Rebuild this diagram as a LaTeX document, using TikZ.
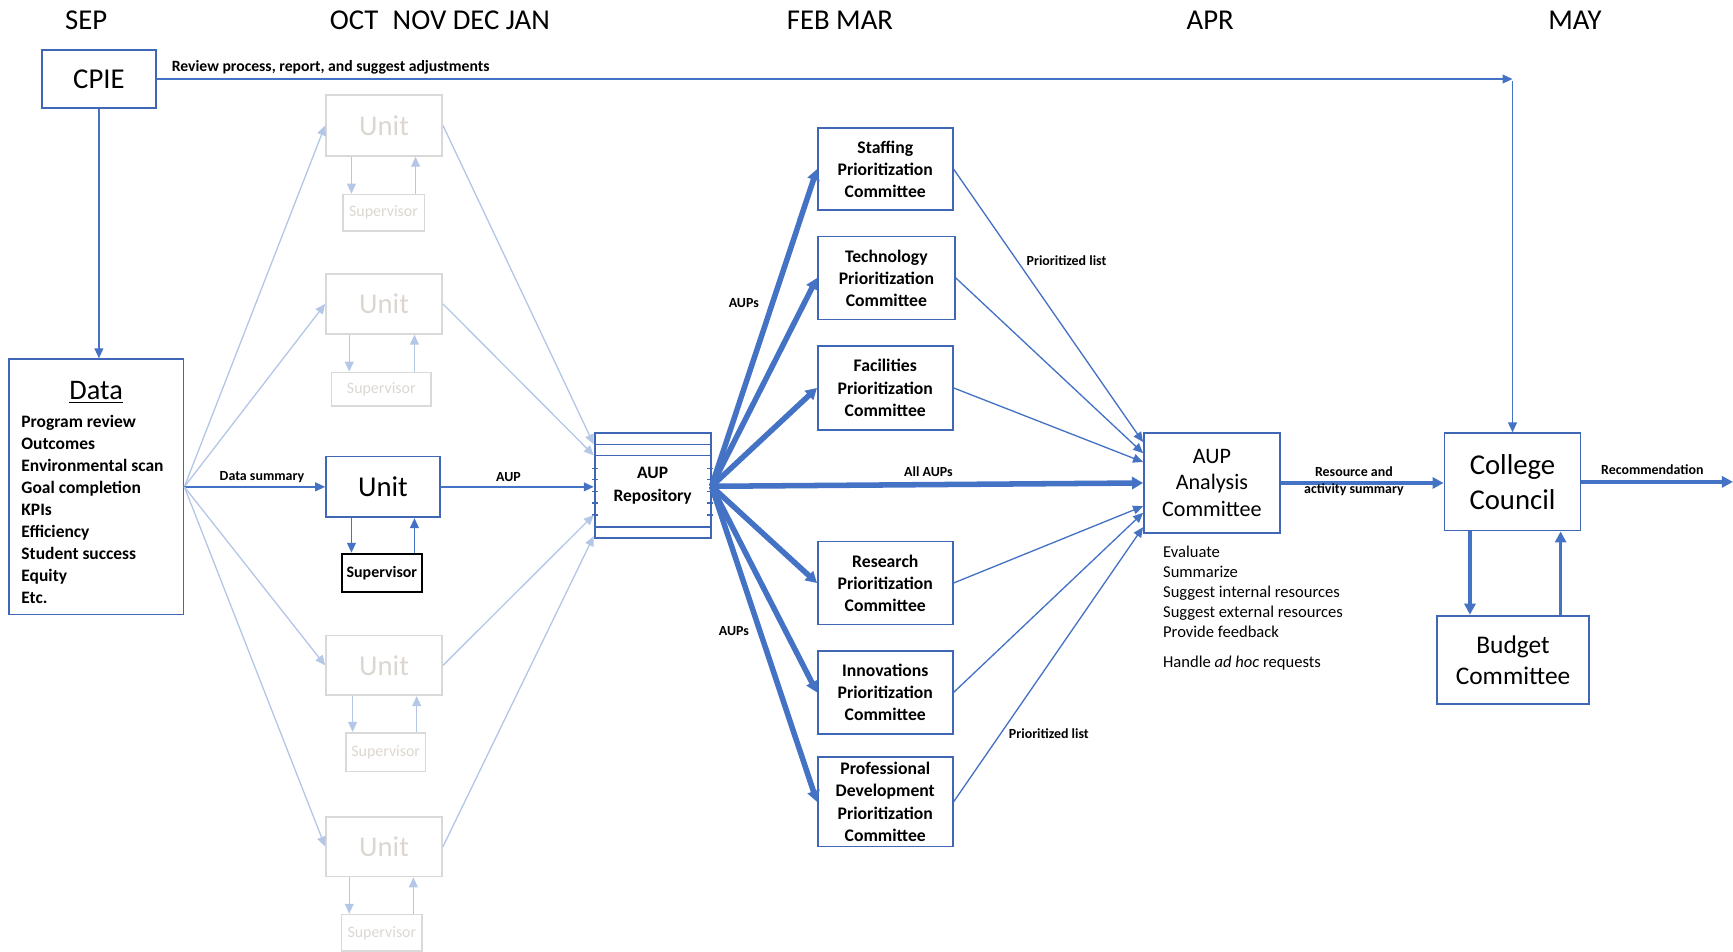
\documentclass[tikz,border=0pt]{standalone}
\usepackage{fontspec}
\setmainfont{Carlito}
\usetikzlibrary{arrows.meta}
\definecolor{ofblue}{HTML}{4472C4}
\definecolor{boxblue}{HTML}{3F67B5}
\definecolor{fadeblue}{HTML}{B4C7E7}
\definecolor{fadegray}{HTML}{D9D9D9}
\definecolor{fadetext}{HTML}{DCD6D0}
\tikzset{
  box/.style={draw=boxblue, line width=0.8pt, inner sep=0pt, align=center},
  fadebox/.style={draw=fadegray, line width=0.8pt, inner sep=0pt, text=fadetext},
  flow/.style={draw=ofblue, line width=0.6pt, -{Triangle[length=4.5pt,width=4pt]}},
  fadeflow/.style={draw=fadeblue, line width=0.6pt, -{Triangle[length=4.5pt,width=4pt]}},
  heavy/.style={draw=ofblue, line width=2.5pt, -{Triangle[length=5pt,width=5.5pt]}},
  medium/.style={draw=ofblue, line width=1.6pt, -{Triangle[length=5pt,width=5pt]}},
  tag/.style={font=\bfseries\fontsize{6.3}{7.5}\selectfont, inner sep=0pt, align=center},
  month/.style={font=\fontsize{13}{15}\selectfont, inner sep=0pt},
  unitbox/.style={minimum width=52.5pt, minimum height=27.5pt, font=\fontsize{13}{15}\selectfont},
  supbox/.style={font=\fontsize{7.2}{9}\selectfont},
  cmt/.style={box, font=\bfseries\fontsize{8}{10}\selectfont, minimum width=61pt}
}
\begin{document}
\begin{tikzpicture}[x=0.5pt,y=-0.5pt]
\useasboundingbox (0,0) rectangle (1568,861);

% month headings
\node[month] (sep) at (78,18) {SEP};
\node[month] (ocj) at (398,18) {OCT\enspace NOV DEC JAN};
\node[month] (fm) at (760,18) {FEB MAR};
\node[month] (apr) at (1095,18) {APR};
\node[month] (may) at (1425,18) {MAY};

% CPIE and data
\node[box, minimum width=51.5pt, minimum height=26.5pt, font=\fontsize{13}{15}\selectfont] (cpie) at (89.5,71.5) {CPIE};
\node[box, minimum width=79pt, minimum height=115.5pt] (data) at (87,440.5) {};
\node[font=\fontsize{12.8}{15}\selectfont, inner sep=0pt] (datahead) at (87,355) {\underline{Data}};
\node[anchor=north west, inner sep=0pt, align=left, font=\bfseries\fontsize{7.9}{10}\selectfont] (datalist) at (19,375)
  {Program review\\Outcomes\\Environmental scan\\Goal completion\\KPIs\\Efficiency\\Student success\\Equity\\Etc.};

% units and supervisors
\node[fadebox, unitbox] (u1) at (347.5,113.5) {Unit};
\node[fadebox, supbox, minimum width=37pt, minimum height=16.5pt] (s1) at (347,192.5) {Supervisor};
\node[fadebox, unitbox, minimum height=27pt] (u2) at (347.5,275) {Unit};
\node[fadebox, supbox, minimum width=45pt, minimum height=15pt] (s2) at (345,352) {Supervisor};
\node[box, unitbox, minimum width=51.5pt] (u3) at (346.5,440.5) {Unit};
\node[draw=black, line width=0.9pt, inner sep=0pt, supbox, font=\bfseries\fontsize{7.2}{9}\selectfont, minimum width=36.5pt, minimum height=17.5pt] (s3) at (345.5,518.5) {Supervisor};
\node[fadebox, unitbox, minimum height=27pt] (u4) at (347.5,602) {Unit};
\node[fadebox, supbox, minimum width=36pt, minimum height=17.5pt] (s4) at (349,680.5) {Supervisor};
\node[fadebox, unitbox, minimum height=27pt] (u5) at (347.5,766) {Unit};
\node[fadebox, supbox, minimum width=36.5pt, minimum height=16.5pt] (s5) at (345.5,844) {Supervisor};

% unit <-> supervisor loops
\coordinate (d1) at ([xshift=-14.75pt]u1.south); \coordinate (q1) at ([xshift=14.25pt]u1.south);
\draw[fadeflow] (d1) -- (d1 |- s1.north);
\draw[fadeflow] (q1 |- s1.north) -- (q1);
\coordinate (d2) at ([xshift=-15.75pt]u2.south); \coordinate (q2) at ([xshift=13.75pt]u2.south);
\draw[fadeflow] (d2) -- (d2 |- s2.north);
\draw[fadeflow] (q2 |- s2.north) -- (q2);
\coordinate (d3) at ([xshift=-14.25pt]u3.south); \coordinate (q3) at ([xshift=14.25pt]u3.south);
\draw[flow] (d3) -- (d3 |- s3.north);
\draw[flow] (q3 |- s3.north) -- (q3);
\coordinate (d4) at ([xshift=-14.25pt]u4.south); \coordinate (q4) at ([xshift=14.75pt]u4.south);
\draw[fadeflow] (d4) -- (d4 |- s4.north);
\draw[fadeflow] (q4 |- s4.north) -- (q4);
\coordinate (d5) at ([xshift=-15.75pt]u5.south); \coordinate (q5) at ([xshift=13.25pt]u5.south);
\draw[fadeflow] (d5) -- (d5 |- s5.north);
\draw[fadeflow] (q5 |- s5.north) -- (q5);

% AUP repository (stacked record with side ticks)
\node[box, minimum width=52.5pt, minimum height=47.5pt, font=\bfseries\fontsize{7.9}{10}\selectfont] (repo) at (590.5,439.5) {AUP\\Repository};
\draw[boxblue, line width=0.7pt] (538,402) -- (643,402) (538,412) -- (643,412) (538,477) -- (643,477);
\foreach \ty in {424,434,445,455,466}{
  \draw[boxblue, line width=0.6pt] (536,\ty) -- (541,\ty) (640,\ty) -- (645,\ty);
}

% committees
\node[cmt, minimum height=37pt] (staff) at (801,153) {Staffing\\Prioritization\\Committee};
\node[cmt, minimum width=62pt, minimum height=37.5pt] (tech) at (802,251.5) {Technology\\Prioritization\\Committee};
\node[cmt, minimum height=38pt] (fac) at (801,351) {Facilities\\Prioritization\\Committee};
\node[cmt, minimum height=37.5pt] (res) at (801,527.5) {Research\\Prioritization\\Committee};
\node[cmt, minimum height=37.5pt] (inn) at (801,626.5) {Innovations\\Prioritization\\Committee};
\node[cmt, minimum height=40.5pt] (pd) at (801,725.5) {Professional\\Development\\Prioritization\\Committee};

% analysis, council, budget
\node[box, minimum width=61.5pt, minimum height=45pt, font=\fontsize{10}{12}\selectfont] (aupa) at (1096.5,437) {AUP\\Analysis\\Committee};
\node[box, minimum width=61.5pt, minimum height=44pt, font=\fontsize{13}{16}\selectfont] (council) at (1368.5,436) {College\\Council};
\node[box, minimum width=69pt, minimum height=40pt, font=\fontsize{11.5}{14}\selectfont] (budget) at (1369,597) {Budget\\Committee};
\node[anchor=north west, inner sep=0pt, align=left, font=\fontsize{7.5}{9}\selectfont] (tasks) at (1052,494)
  {Evaluate\\Summarize\\Suggest internal resources\\Suggest external resources\\Provide feedback\\[4.5pt]Handle \textit{ad hoc} requests};

% CPIE flows
\coordinate (turn) at (1368.5,73);
\draw[flow] (cpie.east) -- (cpie.east -| turn);
\draw[flow] (turn) -- (council.north);
\draw[flow] (cpie.south) -- (cpie.south |- data.north);
\node[tag, anchor=base west, font=\bfseries\fontsize{7.1}{8.5}\selectfont] (revlbl) at (155,65) {Review process, report, and suggest adjustments};

% data to units
\draw[fadeflow] (data.east) -- (u1.west);
\draw[fadeflow] (data.east) -- (u2.west);
\draw[flow] (data.east) -- (u3.west);
\draw[fadeflow] (data.east) -- (u4.west);
\draw[fadeflow] (data.east) -- (u5.west);
\node[tag] (dslbl) at (237,432) {Data summary};

% units to repository
\draw[fadeflow] (u1.east) -- ([yshift=18.75pt]repo.west);
\draw[fadeflow] (u2.east) -- ([yshift=13.75pt]repo.west);
\draw[flow] (u3.east) -- (u3.east -| repo.west);
\draw[fadeflow] (u4.east) -- ([yshift=-13.25pt]repo.west);
\draw[fadeflow] (u5.east) -- ([yshift=-22.75pt]repo.west);
\node[tag] (auplbl) at (460,432) {AUP};

% repository to committees
\coordinate (rout) at ([yshift=-0.25pt]repo.east);
\draw[heavy] (rout) -- (staff.west);
\draw[heavy] (rout) -- (tech.west);
\draw[heavy] (rout) -- (fac.west);
\draw[heavy] (rout) -- (aupa.west);
\draw[heavy] (rout) -- (res.west);
\draw[heavy] (rout) -- (inn.west);
\draw[heavy] (rout) -- (pd.west);
\node[tag] (aupsa) at (673,274) {AUPs};
\node[tag] (aupsb) at (664,571) {AUPs};
\node[tag] (allaups) at (840,427) {All AUPs};

% committees to analysis
\draw[flow] (staff.east) -- ([yshift=18.5pt]aupa.west);
\draw[flow] (tech.east) -- ([yshift=13.5pt]aupa.west);
\draw[flow] (fac.east) -- ([yshift=9.5pt]aupa.west);
\draw[flow] (res.east) -- ([yshift=-10.5pt]aupa.west);
\draw[flow] (inn.east) -- ([yshift=-13.5pt]aupa.west);
\draw[flow] (pd.east) -- ([yshift=-20pt]aupa.west);
\node[tag] (plista) at (965,236) {Prioritized list};
\node[tag] (plistb) at (949,664) {Prioritized list};

% analysis to council, budget loop, recommendation
\draw[medium] (aupa.east) -- (aupa.east -| council.west);
\node[tag] (ralbl) at (1225,435.5) {Resource and\\activity summary};
\coordinate (cb1) at ([xshift=-19.25pt]council.south);
\coordinate (cb2) at ([xshift=21.75pt]council.south);
\draw[medium] (cb1) -- (cb1 |- budget.north);
\draw[medium] (cb2 |- budget.north) -- (cb2);
\coordinate (recend) at (1568,436);
\draw[medium] (council.east) -- (recend);
\node[tag] (reclbl) at (1495,425) {Recommendation};
\end{tikzpicture}
\end{document}
